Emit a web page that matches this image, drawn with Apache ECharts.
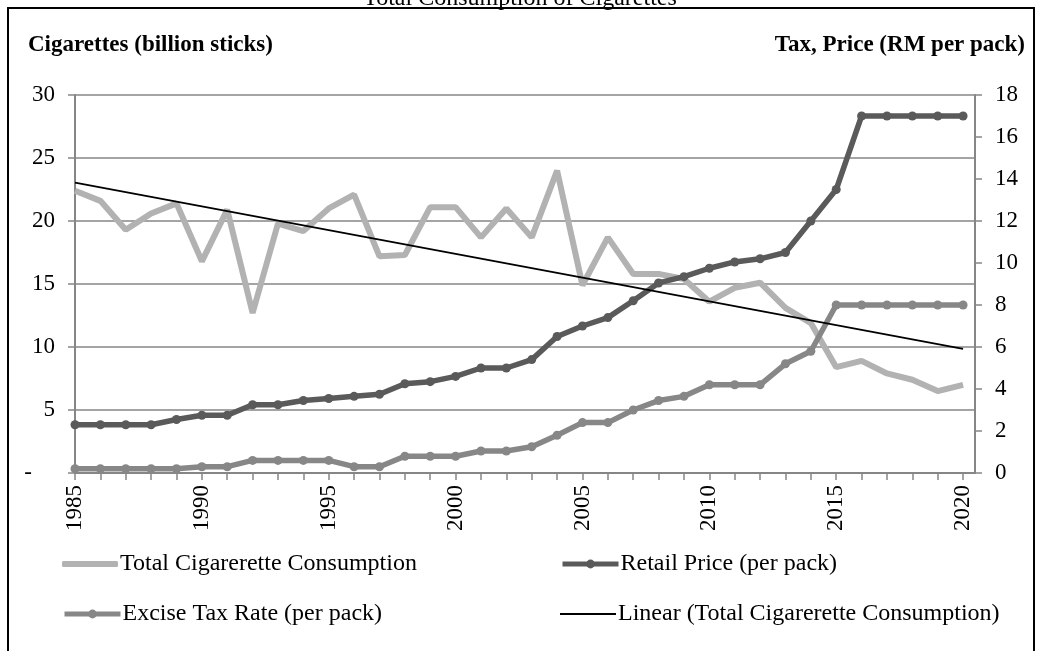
<!DOCTYPE html>
<html>
<head>
<meta charset="utf-8">
<script src="https://cdn.jsdelivr.net/npm/echarts@6/dist/echarts.min.js"></script>
<style>
html,body{margin:0;padding:0;background:#fff;}
#c{width:1040px;height:651px;}
</style>
</head>
<body>
<div id="c"></div>
<script>
const years = [1985,1986,1987,1988,1989,1990,1991,1992,1993,1994,1995,1996,1997,1998,1999,2000,2001,2002,2003,2004,2005,2006,2007,2008,2009,2010,2011,2012,2013,2014,2015,2016,2017,2018,2019,2020];
const consumption = [22.4,21.6,19.3,20.6,21.4,16.8,20.9,12.7,19.8,19.2,21.0,22.1,17.2,17.3,21.1,21.1,18.7,21.0,18.7,24.0,14.9,18.7,15.8,15.8,15.4,13.6,14.7,15.1,13.1,11.9,8.4,8.9,7.9,7.4,6.5,7.0];
const retailPrice = [2.3,2.3,2.3,2.3,2.55,2.75,2.75,3.25,3.25,3.45,3.55,3.65,3.75,4.25,4.35,4.6,5.0,5.0,5.4,6.5,7.0,7.4,8.2,9.05,9.35,9.75,10.05,10.2,10.5,12.0,13.5,17.0,17.0,17.0,17.0,17.0];
const exciseTax = [0.2,0.2,0.2,0.2,0.2,0.3,0.3,0.6,0.6,0.6,0.6,0.3,0.3,0.8,0.8,0.8,1.05,1.05,1.25,1.8,2.4,2.4,3.0,3.45,3.65,4.2,4.2,4.2,5.2,5.8,8.0,8.0,8.0,8.0,8.0,8.0];
const trendYears = [1985, 2020];
const trendValues = [23.05, 9.85];

const names = ['Total Cigarerette Consumption','Retail Price (per pack)','Excise Tax Rate (per pack)','Linear (Total Cigarerette Consumption)'];
const FONT = 'Liberation Serif';
const AXIS_GRAY = '#868686';
const C_CONS = '#b2b2b2', C_PRICE = '#5a5a5a', C_TAX = '#878787', C_TREND = '#000';

const chart = echarts.init(document.getElementById('c'));
const zip = (xs, ys) => xs.map((x, i) => [x, ys[i]]);

function legendAt(name, left, top, extra) {
  return Object.assign({
    data: [name], left: left, top: top, itemWidth: 56, itemHeight: 11, itemGap: 0,
    padding: 0,
    textStyle: {fontFamily: FONT, fontSize: 24, color: '#000', padding: [0,0,0,-3]},
    selectedMode: false
  }, extra || {});
}

chart.setOption({
  animation: false,
  backgroundColor: '#fff',
  textStyle: {fontFamily: FONT},
  grid: {left: 75, right: 65, top: 95, bottom: 178, containLabel: false},
  graphic: [
    {type: 'rect', shape: {x: 8, y: 8, width: 1026, height: 700}, style: {fill: 'none', stroke: '#000', lineWidth: 2}, z: 100},
    {type: 'text', x: 520, y: -1, style: {text: 'Total Consumption of Cigarettes', font: '24px "Liberation Serif"', fill: '#000', align: 'center', verticalAlign: 'middle'}},
    {type: 'text', x: 28, y: 45, style: {text: 'Cigarettes (billion sticks)', font: 'bold 23px "Liberation Serif"', fill: '#000', align: 'left', verticalAlign: 'middle'}},
    {type: 'text', x: 1025, y: 45, style: {text: 'Tax, Price (RM per pack)', font: 'bold 23px "Liberation Serif"', fill: '#000', align: 'right', verticalAlign: 'middle'}}
  ],
  legend: [
    legendAt(names[0], 62, 552, {data: [{name: names[0], icon: 'roundRect'}], itemHeight: 6}),
    legendAt(names[1], 560, 552, {lineStyle: {width: 5}}),
    legendAt(names[2], 62, 602, {lineStyle: {width: 5}}),
    legendAt(names[3], 560, 602, {data: [{name: names[3], icon: 'rect'}], itemHeight: 2})
  ],
  xAxis: {
    type: 'value', min: years[0], max: years[years.length-1] + 0.47, interval: 1,
    axisLine: {show: true, lineStyle: {color: AXIS_GRAY, width: 2}},
    axisTick: {show: true, length: 7, lineStyle: {color: AXIS_GRAY, width: 1.5}},
    splitLine: {show: false},
    axisLabel: {
      rotate: 90, fontFamily: FONT, fontSize: 23, color: '#000', margin: 12,
      showMaxLabel: false,
      formatter: v => (Number.isInteger(v) && v % 5 === 0) ? String(v) : ''
    }
  },
  yAxis: [
    {
      type: 'value', min: 0, max: 30, interval: 5, position: 'left',
      axisLine: {show: true, lineStyle: {color: AXIS_GRAY, width: 2}},
      axisTick: {show: true, length: 7, lineStyle: {color: AXIS_GRAY, width: 1.5}},
      splitLine: {show: true, lineStyle: {color: AXIS_GRAY, width: 1.5}},
      axisLabel: {fontFamily: FONT, fontSize: 23, color: '#000', margin: 20,
        formatter: v => v === 0 ? '-    ' : String(v)}
    },
    {
      type: 'value', min: 0, max: 18, interval: 2, position: 'right',
      axisLine: {show: true, lineStyle: {color: AXIS_GRAY, width: 2}},
      axisTick: {show: true, length: 7, lineStyle: {color: AXIS_GRAY, width: 1.5}},
      splitLine: {show: false},
      axisLabel: {fontFamily: FONT, fontSize: 23, color: '#000', margin: 20}
    }
  ],
  series: [
    {
      name: names[0], type: 'line', yAxisIndex: 0, data: zip(years, consumption),
      showSymbol: false, symbol: 'none', z: 2,
      lineStyle: {color: C_CONS, width: 6}, itemStyle: {color: C_CONS}
    },
    {
      name: names[1], type: 'line', yAxisIndex: 1, data: zip(years, retailPrice),
      symbol: 'circle', symbolSize: 9, showSymbol: true, z: 3,
      lineStyle: {color: C_PRICE, width: 5.5}, itemStyle: {color: C_PRICE}
    },
    {
      name: names[2], type: 'line', yAxisIndex: 1, data: zip(years, exciseTax),
      symbol: 'circle', symbolSize: 9, showSymbol: true, z: 3,
      lineStyle: {color: C_TAX, width: 5.5}, itemStyle: {color: C_TAX}
    },
    {
      name: names[3], type: 'line', yAxisIndex: 0, data: zip(trendYears, trendValues),
      symbol: 'none', z: 4,
      lineStyle: {color: C_TREND, width: 1.8}, itemStyle: {color: C_TREND}
    }
  ]
});
</script>
</body>
</html>
